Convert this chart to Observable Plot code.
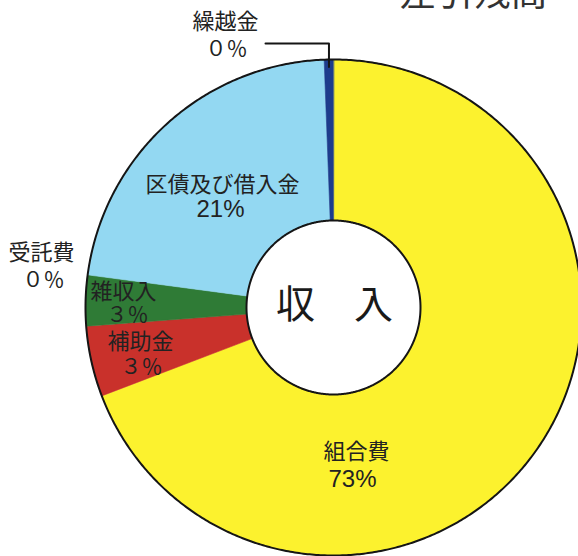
<!DOCTYPE html>
<html><head><meta charset="utf-8">
<script src="https://cdn.jsdelivr.net/npm/d3@7"></script>
<script src="https://cdn.jsdelivr.net/npm/@observablehq/plot@0.6"></script>
<style>
html,body{margin:0;padding:0;background:#fff;overflow:hidden}
#chart svg{display:block}
</style></head><body><div id="chart"></div>
<script>
// ---- data (clockwise from 12 o'clock) ----
const categories = ["組合費", "補助金", "雑収入", "受託費", "区債及び借入金", "繰越金"];
// slice sizes as drawn in the picture (%)
const shares = [69.2, 4.6, 3.3, 0, 22.3, 0.6];
// printed percentage labels
const percentLabels = ["73%", "３％", "３％", "０％", "21%", "０％"];
const colors = ["#fcf22e", "#c9312b", "#2f7b36", "#7b4f9d", "#93d8f2", "#1d3c8c"];
const centerTitle = "収　入";
const pageTitle = "差引残高";

// ---- layout ----
const W = 578, H = 556, CX = 333, CY = 307, R = 248, HOLE = 87 / 248;
const U = (px, py) => ({x: (px - CX) / R, y: (CY - py) / R});
const namePos = [[356, 451], [140, 341], [123, 291], [41, 252], [222, 184], [225, 21]];
const pctPos  = [[352, 479], [141, 367], [127, 315], [43, 280], [220, 209], [226, 49]];

const pie = d3.pie().sort(null).value(d => d.v)(categories.map((c, i) => ({c, v: shares[i]})));
const slicePts = [];
pie.forEach(s => {
  if (s.endAngle - s.startAngle <= 0) return;
  slicePts.push({name: s.data.c, x: 0, y: 0});
  const n = Math.max(2, Math.ceil((s.endAngle - s.startAngle) / 0.01));
  for (let k = 0; k <= n; k++) {
    const a = s.startAngle + (s.endAngle - s.startAngle) * k / n;
    slicePts.push({name: s.data.c, x: Math.sin(a), y: Math.cos(a)});
  }
});
const circle = r => d3.range(0, 360, 0.5).map(d => ({x: r * Math.sin(d * Math.PI / 180), y: r * Math.cos(d * Math.PI / 180)}));

const nameLabels = categories.map((c, i) => ({text: c, ...U(...namePos[i])}));
const pctLabels = percentLabels.map((t, i) => ({text: t, half: /[0-9]/.test(t), ...U(...pctPos[i])}));

// leader line for 繰越金
const kuri = pie[categories.indexOf("繰越金")];
const mid = (kuri.startAngle + kuri.endAngle) / 2;
const lineY = U(0, 43).y, lineX0 = U(265, 0).x;
const leader = [
  {x: lineX0, y: lineY},
  {x: 0.97 * Math.sin(mid), y: lineY},
  {x: 0.97 * Math.sin(mid), y: 0.97 * Math.cos(mid)}
];

const chart = Plot.plot({
  width: W, height: H, margin: 0,
  x: {domain: [-CX / R, (W - CX) / R], axis: null},
  y: {domain: [-(H - CY) / R, CY / R], axis: null},
  color: {domain: categories, range: colors},
  style: {background: "#fff", fontFamily: "'Noto Sans CJK JP', sans-serif"},
  marks: [
    Plot.line(slicePts, {x: "x", y: "y", z: "name", fill: "name", stroke: "name", strokeWidth: 0.6, curve: "linear-closed"}),
    Plot.line(circle(1), {x: "x", y: "y", stroke: "#151515", strokeWidth: 2, curve: "linear-closed"}),
    Plot.line(circle(HOLE), {x: "x", y: "y", fill: "#fff", stroke: "#151515", strokeWidth: 2, curve: "linear-closed"}),
    Plot.line(leader, {x: "x", y: "y", stroke: "#151515", strokeWidth: 2}),
    Plot.text([{text: centerTitle, ...U(334, 305)}], {x: "x", y: "y", text: "text", fontSize: 39, fill: "#1a1a1a"}),
    Plot.text(nameLabels, {x: "x", y: "y", text: "text", fontSize: 22, fill: "#222"}),
    Plot.text(pctLabels, {x: "x", y: "y", text: "text", fontSize: d => d.half ? 24 : 21, fill: "#222",
      fontFamily: "'Liberation Sans', 'Noto Sans CJK JP', sans-serif"}),
    Plot.text([{text: pageTitle, ...U(473, -6)}], {x: "x", y: "y", text: "text", fontSize: 37, fill: "#333"})
  ]
});
document.getElementById("chart").appendChild(chart);
</script>
</body></html>
